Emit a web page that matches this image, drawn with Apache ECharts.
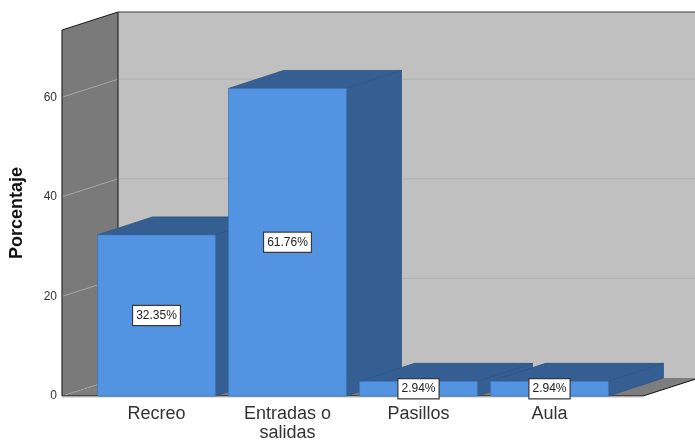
<!DOCTYPE html>
<html>
<head>
<meta charset="utf-8">
<style>html,body{margin:0;padding:0;background:#fff}#c{width:695px;height:441px}</style>
<script src="https://cdn.jsdelivr.net/npm/echarts@6/dist/echarts.min.js"></script>
</head>
<body>
<div id="c"></div>
<script>
const categories = ['Recreo', 'Entradas o\nsalidas', 'Pasillos', 'Aula'];
const values = [32.35, 61.76, 2.94, 2.94];
const labels = ['32.35%', '61.76%', '2.94%', '2.94%'];
const yTicks = [0, 20, 40, 60];
const yMax = 73.5;

const depthX = 55, depthY = -18, wallDepthX = 56;
const wallLeftGap = 29, floorRightGap = 28;

const chart = echarts.init(document.getElementById('c'), null, {renderer: 'canvas'});

function poly(points, fill, stroke, lw) {
  return {type: 'polygon', shape: {points}, style: {fill, stroke: stroke || null, lineWidth: lw || 0}, silent: true};
}
function line(a, b, stroke, lw, dash) {
  return {type: 'line', shape: {x1: a[0], y1: a[1], x2: b[0], y2: b[1]},
    style: {stroke, lineWidth: lw, lineDash: dash || null, fill: null}, silent: true};
}

function renderRoom(params, api) {
  const cs = params.coordSys;
  const x0 = cs.x - wallLeftGap;
  const x1 = cs.x + cs.width + floorRightGap;
  const yb = api.coord([0, 0])[1];
  const yt = api.coord([0, yMax])[1];
  const far = 60;
  const d = wallDepthX;
  const ch = [];
  ch.push(poly([[x0 + d, yt + depthY], [x1 + far + d, yt + depthY], [x1 + far + d, yb + depthY], [x0 + d, yb + depthY]], '#c0c0c0'));
  ch.push(poly([[x0, yb], [x0 + d, yb + depthY], [x1 + d, yb + depthY], [x1, yb]], '#7d7d7d'));
  ch.push(poly([[x0, yt], [x0 + d, yt + depthY], [x0 + d, yb + depthY], [x0, yb]], '#7a7a7a'));
  yTicks.forEach(function (t) {
    const y = api.coord([0, t])[1];
    if (t === 0) {
      ch.push(line([x0, y], [x0 + d, y + depthY], '#a8a8a8', 1, [2, 2]));
    } else {
      ch.push(line([x0, y], [x0 + d, y + depthY], '#a6a6a6', 1));
      ch.push(line([x0 + d, y + depthY], [x1 + far + d, y + depthY], '#b2b2b2', 1));
    }
  });
  ch.push(line([x0 + d, yt + depthY], [x1 + far + d, yt + depthY], '#3c3c3c', 1));
  ch.push(line([x0, yt], [x0 + d, yt + depthY], '#1a1a1a', 1));
  ch.push(line([x0, yt], [x0, yb], '#2a2a2a', 1.2));
  ch.push(line([x0 + d, yt + depthY], [x0 + d, yb + depthY], '#2a2a2a', 1.2));
  ch.push(line([x0, yb], [x1, yb], '#111111', 1));
  ch.push(line([x0, yb + 1], [x1, yb + 1], '#c4c4c4', 1));
  ch.push(line([x1, yb], [x1 + d, yb + depthY], '#111111', 1));
  return {type: 'group', children: ch};
}

function renderBar(params, api) {
  const idx = api.value(0);
  const val = api.value(1);
  const c = api.coord([idx, val]);
  const base = api.coord([idx, 0]);
  const w = api.size([1, 0])[0] * 0.9;
  const l = c[0] - w / 2, r = c[0] + w / 2, t = c[1], b = base[1];
  const edge = '#2c5487';
  return {
    type: 'group',
    children: [
      poly([[l, t], [l + depthX, t + depthY], [r + depthX, t + depthY], [r, t]], '#355f92', edge, 0.8),
      poly([[r, t], [r + depthX, t + depthY], [r + depthX, b + depthY], [r, b]], '#355f92', edge, 0.8),
      poly([[l, t], [r, t], [r, b], [l, b]], '#5294e2', '#3f75b5', 0.8),
      {
        type: 'text', z2: 50, silent: true,
        x: c[0], y: (t + b) / 2,
        style: {
          text: labels[params.dataIndex], align: 'center', verticalAlign: 'middle',
          font: '12px "Liberation Sans", Arial, sans-serif', fill: '#222',
          backgroundColor: '#fff', borderColor: '#3a3a3a', borderWidth: 1.2,
          padding: [4, 3, 3, 3]
        }
      }
    ]
  };
}

chart.setOption({
  animation: false,
  grid: {left: 91, width: 524, top: 30, height: 366, containLabel: false, outerBoundsMode: 'none'},
  xAxis: {
    type: 'category', data: categories,
    axisLine: {show: false}, axisTick: {show: false},
    axisLabel: {color: '#333', fontFamily: 'Liberation Sans', fontSize: 18, lineHeight: 19, margin: 9, interval: 0}
  },
  yAxis: {
    type: 'value', min: 0, max: yMax, interval: 20, offset: wallLeftGap,
    axisLine: {show: false}, axisTick: {show: false}, splitLine: {show: false},
    axisLabel: {color: '#333', fontFamily: 'Liberation Sans', fontSize: 12, margin: 5, showMaxLabel: false,
      formatter: function (v) { return yTicks.indexOf(v) >= 0 ? String(v) : ''; }},
    name: 'Porcentaje', nameLocation: 'middle', nameGap: 36, nameRotate: 90,
    nameTextStyle: {color: '#111', fontFamily: 'Liberation Sans', fontWeight: 'bold', fontSize: 18}
  },
  series: [
    {type: 'custom', z: 1, silent: true, clip: false, renderItem: renderRoom, data: [[0, 0]], encode: {x: 0, y: 1}},
    {type: 'custom', z: 2, silent: true, clip: false, renderItem: renderBar,
      data: values.map(function (v, i) { return [i, v]; }), encode: {x: 0, y: 1}}
  ]
});
</script>
</body>
</html>
